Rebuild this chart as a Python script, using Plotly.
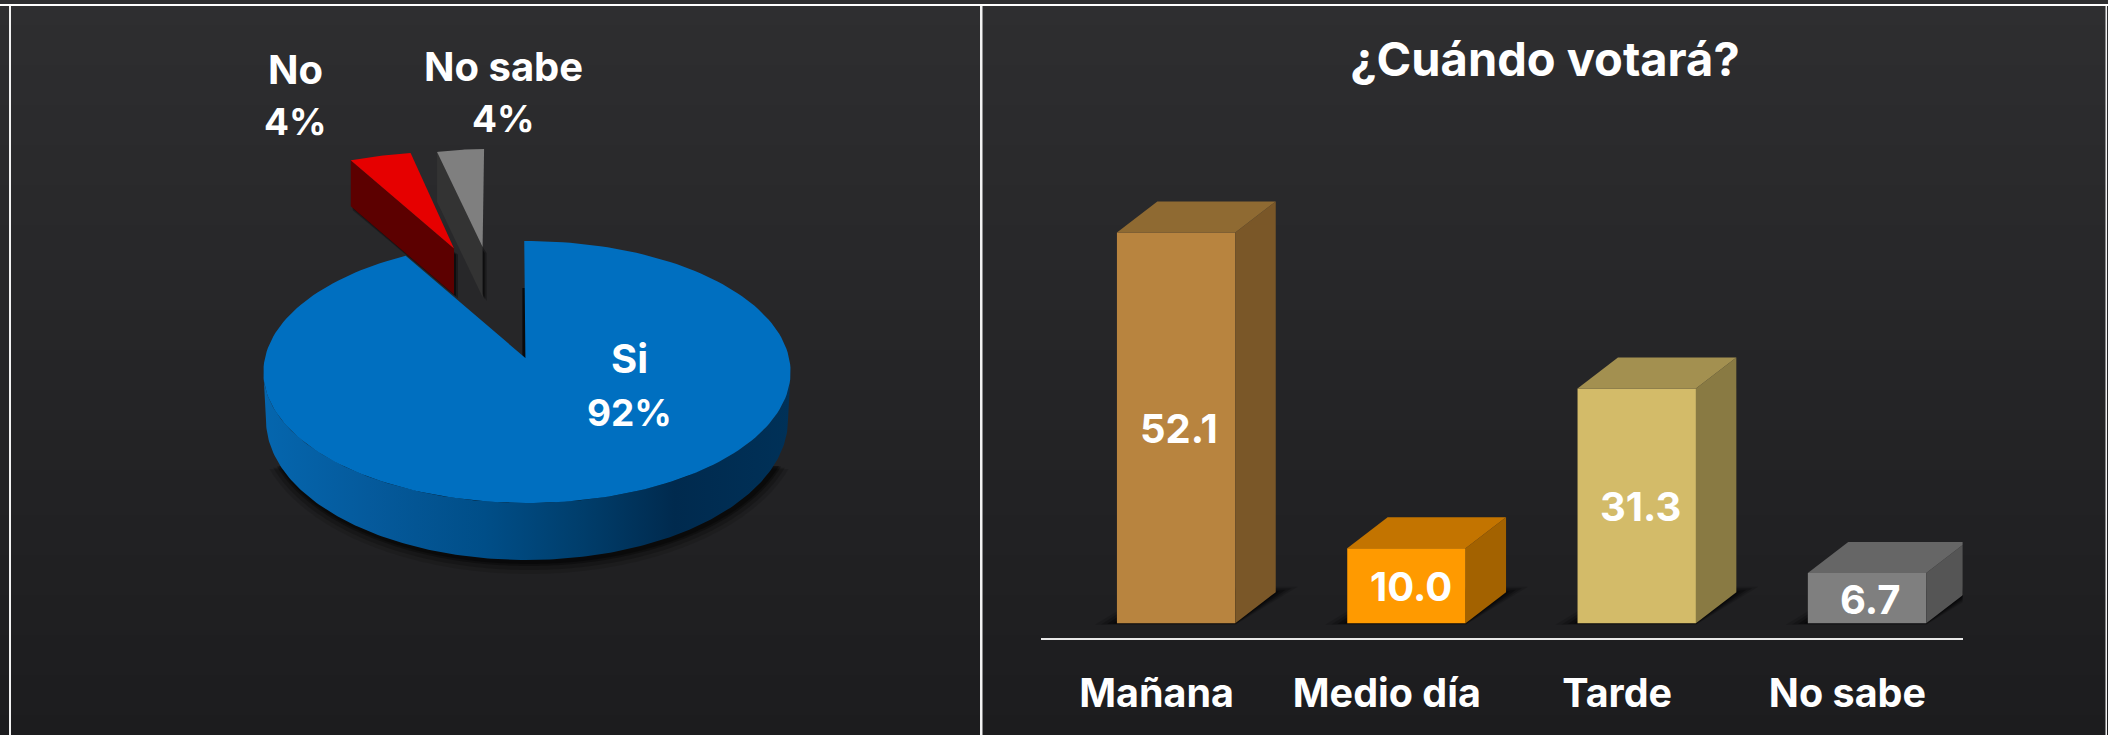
import numpy as np
import plotly.graph_objects as go

# ---- data
bar_categories = ["Mañana", "Medio día", "Tarde", "No sabe"]
bar_values = [52.1, 10.0, 31.3, 6.7]
pie_labels = ["Si", "No", "No sabe"]
pie_values = [92, 4, 4]
chart_title = "¿Cuándo votará?"

# ---- styles
W, H = 2108, 735
FONT = "Inter"
bar_front = ["#b8843f", "#ff9a00", "#d3bb69", "#7f7f7f"]
bar_side = ["#7a5728", "#a36200", "#897a43", "#555555"]
bar_top = ["#8f6a32", "#c37400", "#a39050", "#666666"]

AX_L, AX_R, AX_BOTTOM, AX_TOP = 1041.4, 1962.6, 638.4, 100.0
PX_PER_UNIT = 7.5
BASE_PX = 623.2
band_px = (AX_R - AX_L) / 4
bar_off = -0.172
bar_w = 118.4 / band_px
depth_x = 40.4 / band_px
depth_y = 31 / PX_PER_UNIT
y_min = -(AX_BOTTOM - BASE_PX) / PX_PER_UNIT
y_max = (BASE_PX - AX_TOP) / PX_PER_UNIT

fig = go.Figure()
shapes = []

# background gradient
top_c, bot_c = np.array([46, 46, 48]), np.array([28, 28, 30])
for y0 in range(0, H, 5):
    c = (top_c + (bot_c - top_c) * y0 / H).round().astype(int)
    shapes.append(dict(type="rect", xref="paper", yref="paper", layer="below",
                       x0=0, x1=1, y0=1 - y0 / H, y1=1 - (y0 + 5) / H,
                       fillcolor=f"rgb({c[0]},{c[1]},{c[2]})", line_width=0))


def path(xs, ys):
    return "M" + " L".join(f"{x:.3f},{y:.3f}" for x, y in zip(xs, ys)) + " Z"


# bar shadows (under the bars)
for i, v in enumerate(bar_values):
    L, R = i + bar_off, i + bar_off + bar_w
    for e, op in [(22, .14), (16, .2), (10, .3), (4, .4)]:
        ex = e / band_px
        ey = e * .25 / PX_PER_UNIT
        shapes.append(dict(type="path", xref="x", yref="y", layer="below",
                           path=path([L - ex, R, R + depth_x + ex, L + depth_x],
                                     [-ey * .3, -ey * .3, depth_y + ey, depth_y + ey]),
                           fillcolor=f"rgba(0,0,0,{op})", line_width=0))

# front of the bars
fig.add_trace(go.Bar(
    x=list(range(4)), y=bar_values, width=bar_w, offset=bar_off, base=0,
    marker=dict(color=bar_front, line=dict(width=0)),
    hoverinfo="skip", xaxis="x", yaxis="y"))

# top and side faces
for i, v in enumerate(bar_values):
    L, R = i + bar_off, i + bar_off + bar_w
    fig.add_trace(go.Scatter(x=[R, R + depth_x, R + depth_x, R, R], y=[0, depth_y, v + depth_y, v, 0],
                             mode="lines", fill="toself", fillcolor=bar_side[i], line=dict(width=0),
                             hoverinfo="skip", xaxis="x", yaxis="y"))
    fig.add_trace(go.Scatter(x=[L, R, R + depth_x, L + depth_x, L], y=[v, v, v + depth_y, v + depth_y, v],
                             mode="lines", fill="toself", fillcolor=bar_top[i], line=dict(width=0),
                             hoverinfo="skip", xaxis="x", yaxis="y"))

# ---- pie (page-pixel overlay axes; the slice angles come from the values)
total = sum(pie_values)
sweeps = [v / total * 360 for v in pie_values]
CX, CY, RX, RY = 527, 372, 263.6, 131
BX, BY, BRX, BRY = 527, 420, 261, 140
APEX = (525.4, 358)


def arc(cx, cy, rx, ry, t0, t1, n=200):
    t = np.radians(np.linspace(t0, t1, n))
    return cx + rx * np.sin(t), cy - ry * np.cos(t)


# pie shadow: only the lower part of the base casts a visible shadow
for e, op in [(12, .12), (8, .2), (4, .3), (2, .35)]:
    xs, ys = arc(BX + 2, BY + 2, BRX + e, BRY + e, 108, 252)
    shapes.append(dict(type="path", xref="x2", yref="y2", layer="below", path=path(xs, ys),
                       fillcolor=f"rgba(0,0,0,{op})", line_width=0))

# notch shadow
shapes.append(dict(type="path", xref="x2", yref="y2", layer="below",
                   path=path([APEX[0] - 3, APEX[0] - 3, APEX[0] + 1, APEX[0] + 1],
                             [APEX[1], APEX[1] - 70, APEX[1] - 70, APEX[1]]),
                   fillcolor="#0a0a0b", line_width=0))

# exploded slices: apex, radii, start angle, wall height, colours
exploded = [
    dict(i=1, apex=(454, 248.6), rx=250, ry=97, start=-24.4, h=46, top="#e60000", wall="#5c0000"),
    dict(i=2, apex=(482.6, 247.1), rx=189, ry=98, start=-13.95, h=50, top="#7f7f7f", wall="#333333"),
]
for s in exploded:
    ax, ay = s["apex"]
    xr, yr = arc(0, 0, s["rx"], s["ry"], s["start"], s["start"] + sweeps[s["i"]], 30)
    xr, yr = xr + ax, yr + ay
    wx = [xr[0], ax, ax, xr[0], xr[0]]
    wy = [yr[0], ay, ay + s["h"], yr[0] + s["h"], yr[0]]
    # soft shadow to the right of and below the wall
    for off, op in [(4, .3), (2, .5)]:
        shapes.append(dict(type="path", xref="x2", yref="y2", layer="below",
                           path=path([xr[0] + 2, ax + off, ax + off, xr[0] + 2],
                                     [yr[0] + s["h"] * .5, ay + 6, ay + s["h"] + off, yr[0] + s["h"] + off]),
                           fillcolor=f"rgba(0,0,0,{op})", line_width=0))
    fig.add_trace(go.Scatter(x=wx, y=wy, mode="lines", fill="toself", fillcolor=s["wall"], line=dict(width=0),
                             hoverinfo="skip", xaxis="x2", yaxis="y2"))
    fig.add_trace(go.Scatter(x=np.r_[ax, xr, ax], y=np.r_[ay, yr, ay], mode="lines", fill="toself",
                             fillcolor=s["top"], line=dict(width=0),
                             hoverinfo="skip", xaxis="x2", yaxis="y2"))

# blue wall
xt, yt = arc(CX, CY, RX, RY, 270, 90)
xb, yb = arc(BX, BY, BRX, BRY, 90, 270)
fig.add_trace(go.Scatter(
    x=np.r_[xt, xb], y=np.r_[yt, yb], mode="lines", fill="toself", line=dict(width=0),
    fillcolor="#004a80",
    fillgradient=dict(type="horizontal", colorscale=[
        [0, "#0566ae"], [.2, "#055a9c"], [.42, "#004e88"], [.6, "#003e6c"],
        [.78, "#002a4e"], [1, "#003158"]]),
    hoverinfo="skip", xaxis="x2", yaxis="y2"))

# blue top (small angular corrections follow the picture's perspective)
xr, yr = arc(CX, CY, RX, RY, -0.6, sweeps[0] + 1.4)
fig.add_trace(go.Scatter(x=np.r_[APEX[0], xr, APEX[0]], y=np.r_[APEX[1], yr, APEX[1]],
                         mode="lines", fill="toself", fillcolor="#006fc0", line=dict(width=0),
                         hoverinfo="skip", xaxis="x2", yaxis="y2"))

# pie labels
pie_text_pos = [(629, 358, 412.5), (295, 69.5, 121), (503.6, 66.6, 118.5)]
annotations = []
for (lab, val, (tx, ty1, ty2)) in zip(pie_labels, pie_values, pie_text_pos):
    for txt, ty, sz in ((lab, ty1, 40), (f"{val}%", ty2, 37)):
        annotations.append(dict(text=txt, x=tx, y=ty, xref="x2", yref="y2", showarrow=False,
                                xanchor="center", yanchor="middle",
                                font=dict(family=FONT, size=sz, color="white", weight=700)))

# bar value labels, at the middle of each bar's front face
label_shift = [3, 5, 4, 3]
for i, v in enumerate(bar_values):
    annotations.append(dict(text=f"{v:.1f}", x=i + bar_off + bar_w / 2, y=v / 2, xref="x", yref="y",
                            xshift=label_shift[i], yshift=-1, showarrow=False,
                            xanchor="center", yanchor="middle",
                            font=dict(family=FONT, size=40, color="white", weight=700)))

# frame lines
for x0, x1 in [(9, 11), (980, 982.5), (2105.5, 2107)]:
    shapes.append(dict(type="rect", xref="paper", yref="paper", layer="above",
                       x0=x0 / W, x1=x1 / W, y0=0, y1=1 - 4 / H, fillcolor="#f2f2f2", line_width=0))
shapes.append(dict(type="rect", xref="paper", yref="paper", layer="above",
                   x0=0, x1=1, y0=1 - 4 / H, y1=1 - 6 / H, fillcolor="#ffffff", line_width=0))

fig.update_layout(
    width=W, height=H, margin=dict(l=0, r=0, t=0, b=0), showlegend=False,
    paper_bgcolor="#242426", plot_bgcolor="rgba(0,0,0,0)", shapes=shapes, annotations=annotations,
    title=dict(text=chart_title, x=1545 / W, xanchor="center", y=1 - 60 / H, yanchor="middle",
               xref="paper", yref="paper", font=dict(family=FONT, size=47, color="white", weight=700)),
    xaxis=dict(domain=[AX_L / W, AX_R / W], range=[-.5, 3.5], tickmode="array",
               tickvals=list(range(4)), ticktext=bar_categories, showgrid=False, zeroline=False,
               showline=True, linecolor="#e8e8e8", linewidth=2, ticks="", ticklabelstandoff=19,
               tickfont=dict(family=FONT, size=39.5, color="white", weight=700)),
    yaxis=dict(domain=[1 - AX_BOTTOM / H, 1 - AX_TOP / H], range=[y_min, y_max], visible=False),
    xaxis2=dict(domain=[0, 1], range=[0, W], visible=False, anchor="y2"),
    yaxis2=dict(domain=[0, 1], range=[H, 0], visible=False, anchor="x2"),
)

fig.write_html("out.html", config=dict(displayModeBar=False),
               post_script="document.body.style.margin='0';document.body.style.overflow='hidden';")
